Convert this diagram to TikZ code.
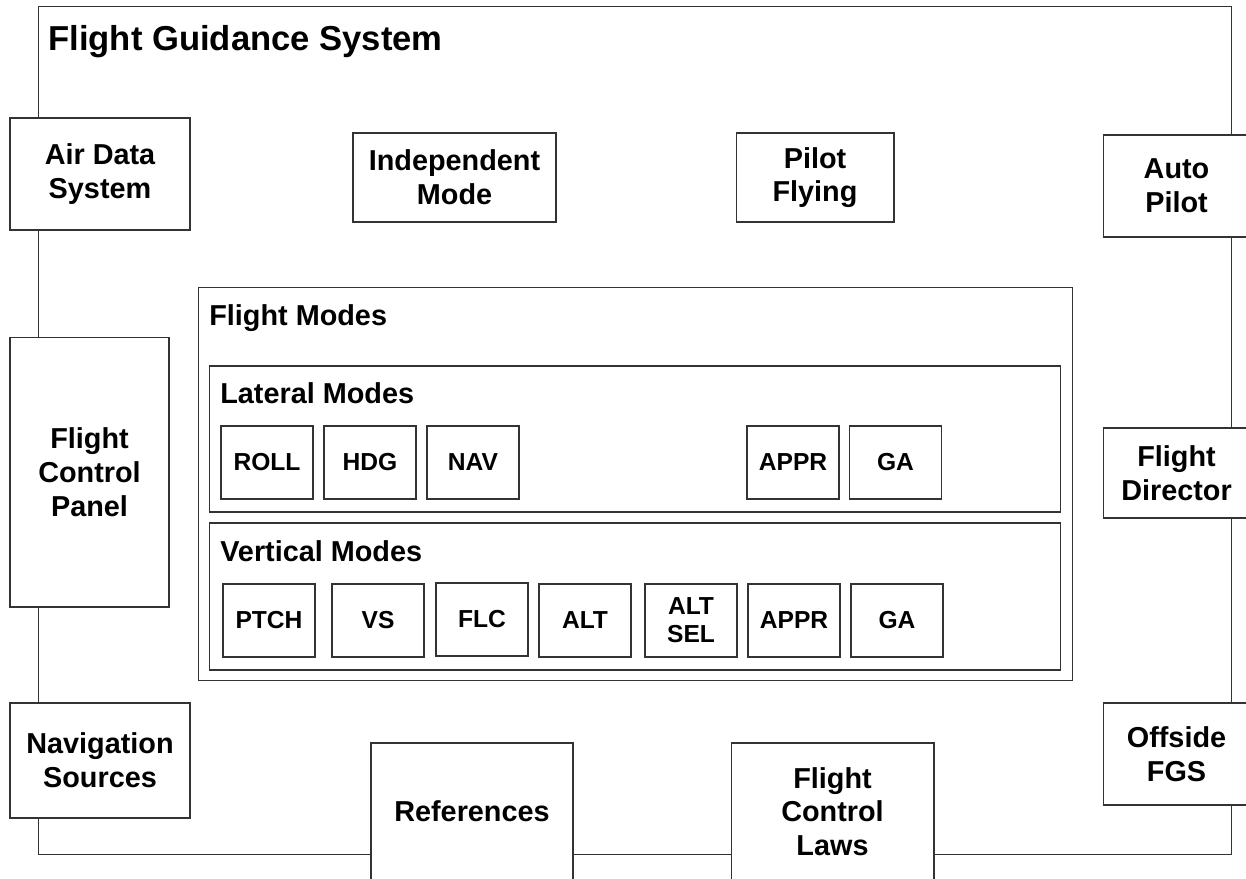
\documentclass[tikz,border=0pt]{standalone}
\usepackage{fontspec}
\setmainfont{Liberation Sans}
\usepackage{tikz}

\tikzset{
  unitbox/.style={draw=black!80, line width=0.6pt, fill=white, align=center, inner sep=0pt,
    font=\fontsize{16.4}{19.2}\selectfont\bfseries},
  modebox/.style={draw=black!80, line width=0.6pt, fill=white, align=center, inner sep=0pt,
    minimum width=1.84cm, minimum height=1.46cm, font=\fontsize{14}{16}\selectfont\bfseries},
  groupbox/.style={draw=black!80, line width=0.6pt, inner sep=0pt},
  grouplabel/.style={anchor=base west, inner sep=0pt, font=\fontsize{16.4}{18.8}\selectfont\bfseries}
}

\begin{document}
\begin{tikzpicture}[x=0.02cm, y=-0.02cm]
    \useasboundingbox (0,0) rectangle (1246,878);
    % outer system frame
    \node[groupbox, minimum width=23.88cm, minimum height=16.98cm] (fgs) at (635,430.5) {};
    \node[grouplabel, font=\fontsize{19.7}{23}\selectfont\bfseries] (fgstitle) at (48,51) {Flight Guidance System};
    % external units on the frame
    \node[unitbox, minimum width=3.6cm, minimum height=2.24cm] (airdata) at (100,174) {Air Data\\System};
    \node[unitbox, minimum width=4.06cm, minimum height=1.78cm] (indep) at (454.5,177.5) {Independent\\Mode};
    \node[unitbox, minimum width=3.16cm, minimum height=1.78cm] (pilotfly) at (815,177.5) {Pilot\\Flying};
    \node[unitbox, minimum width=2.94cm, minimum height=2.04cm] (autopilot) at (1176.5,186) {Auto\\Pilot};
    \node[unitbox, minimum width=3.18cm, minimum height=5.4cm] (fcp) at (89.5,472) {Flight\\Control\\Panel};
    \node[unitbox, minimum width=2.94cm, minimum height=1.8cm] (fltdir) at (1176.5,473) {Flight\\Director};
    \node[unitbox, minimum width=3.6cm, minimum height=2.3cm] (navsrc) at (100,760.5) {Navigation\\Sources};
    \node[unitbox, minimum width=2.94cm, minimum height=2.04cm] (offside) at (1176.5,754) {Offside\\FGS};
    \node[unitbox, minimum width=4.04cm, minimum height=2.74cm] (refs) at (472,811.5) {References};
    \node[unitbox, minimum width=4.06cm, minimum height=2.74cm] (fcl) at (832.5,811.5) {Flight\\Control\\Laws};
    % flight modes
    \node[groupbox, minimum width=17.5cm, minimum height=7.88cm] (fltmodes) at (635.5,484) {};
    \node[grouplabel] (fltmodestitle) at (209,325) {Flight Modes};
    \node[groupbox, minimum width=17.04cm, minimum height=2.92cm] (latmodes) at (635,439) {};
    \node[grouplabel] (latmodestitle) at (220,403) {Lateral Modes};
    \node[groupbox, minimum width=17.04cm, minimum height=2.94cm] (vertmodes) at (635,596.5) {};
    \node[grouplabel] (vertmodestitle) at (220,561) {Vertical Modes};
    % lateral
    \node[modebox] (roll) at (267,462.5) {ROLL};
    \node[modebox] (hdg) at (370,462.5) {HDG};
    \node[modebox] (nav) at (473,462.5) {NAV};
    \node[modebox] (latappr) at (793,462.5) {APPR};
    \node[modebox] (latga) at (895.5,462.5) {GA};
    % vertical
    \node[modebox] (ptch) at (269,620.5) {PTCH};
    \node[modebox] (vs) at (378,620.5) {VS};
    \node[modebox] (flc) at (482,619.5) {FLC};
    \node[modebox] (alt) at (585,620.5) {ALT};
    \node[modebox] (altsel) at (691,620.5) {ALT\\SEL};
    \node[modebox] (vertappr) at (794,620.5) {APPR};
    \node[modebox] (vertga) at (897,620.5) {GA};
  \end{tikzpicture}
\end{document}
